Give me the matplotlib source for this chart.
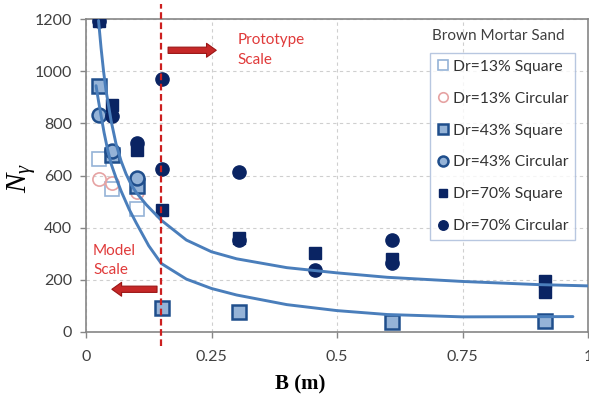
import matplotlib
matplotlib.use("Agg")
import matplotlib.pyplot as plt
from matplotlib.lines import Line2D

# ---------------- data ----------------
sq13_B = [0.0254, 0.0508, 0.1016]
sq13_N = [664, 548, 471]
ci13_B = [0.0254, 0.0508, 0.1016]
ci13_N = [586, 571, 535]
sq43_B = [0.0254, 0.0508, 0.1016, 0.152, 0.305, 0.61, 0.914]
sq43_N = [945, 680, 560, 90, 77, 38, 41]
ci43_B = [0.0254, 0.0508, 0.1016]
ci43_N = [833, 695, 590]
sq70_B = [0.0254, 0.0508, 0.1016, 0.152, 0.305, 0.457, 0.61, 0.914, 0.914]
sq70_N = [1192, 872, 699, 468, 360, 301, 278, 195, 154]
ci70_B = [0.0254, 0.0508, 0.1016, 0.152, 0.152, 0.305, 0.305, 0.457, 0.61, 0.61]
ci70_N = [1192, 830, 725, 971, 625, 615, 353, 237, 353, 263]

# trend curves
upper_B = [0.025, 0.03, 0.035, 0.04, 0.05, 0.06, 0.07, 0.08, 0.09, 0.1, 0.12, 0.15, 0.2,
           0.25, 0.3, 0.4, 0.5, 0.6, 0.75, 0.9, 1.0]
upper_N = [1195, 1090, 1000, 925, 810, 720, 655, 605, 565, 535, 488, 428, 352,
           307, 280, 246, 226, 209, 193, 181, 176]
lower_B = [0.02, 0.025, 0.03, 0.036, 0.043, 0.05, 0.06, 0.07, 0.086, 0.1, 0.125, 0.15,
           0.2, 0.25, 0.3, 0.4, 0.5, 0.6, 0.75, 0.97]
lower_N = [945, 885, 830, 765, 700, 645, 590, 540, 470, 418, 330, 262,
           202, 166, 141, 104, 81, 66, 57, 58]

boundary_B = 0.15
x_ticks = [0, 0.25, 0.5, 0.75, 1]
x_ticklabels = ["0", "0.25", "0.5", "0.75", "1"]
y_ticks = [0, 200, 400, 600, 800, 1000, 1200]

labels = ["Dr=13% Square", "Dr=13% Circular", "Dr=43% Square",
          "Dr=43% Circular", "Dr=70% Square", "Dr=70% Circular"]

# ---------------- styles ----------------
LIGHT = "#95b3d7"
DARK = "#1f4e8c"
NAVY = "#0a2463"
PINK = "#e6a3a3"
CURVE = "#4a7ebb"
RED = "#cc1f1f"
TXTRED = "#e03a3a"
TXT = "#404040"
SANS = ["Lato", "DejaVu Sans"]

series = [
    (sq13_B, sq13_N, dict(marker="s", ms=9.5, mfc="white", mec=LIGHT, mew=1.2)),
    (ci13_B, ci13_N, dict(marker="o", ms=9.5, mfc="none", mec=PINK, mew=1.2)),
    (sq43_B, sq43_N, dict(marker="s", ms=10, mfc=LIGHT, mec=DARK, mew=1.8)),
    (ci43_B, ci43_N, dict(marker="o", ms=10, mfc=LIGHT, mec=DARK, mew=1.8)),
    (sq70_B, sq70_N, dict(marker="s", ms=8.5, mfc=NAVY, mec=NAVY, mew=1)),
    (ci70_B, ci70_N, dict(marker="o", ms=9.5, mfc=NAVY, mec=NAVY, mew=1)),
]

plt.rcParams["mathtext.fontset"] = "custom"
plt.rcParams["mathtext.it"] = "Liberation Serif:italic"
plt.rcParams["mathtext.rm"] = "Liberation Serif"

fig = plt.figure(figsize=(5.89, 3.99), dpi=100)
ax = fig.add_axes([86 / 589, 1 - 331.7 / 399, 502 / 589, (331.7 - 19.3) / 399])

ax.set_xlim(0, 1)
ax.set_ylim(0, 1200)
ax.set_xticks(x_ticks)
ax.set_xticklabels(x_ticklabels)
ax.set_yticks(y_ticks)
for lab in ax.get_xticklabels() + ax.get_yticklabels():
    lab.set_fontfamily(SANS)
    lab.set_fontsize(11.5)
    lab.set_color(TXT)
ax.tick_params(axis="both", direction="out", length=4, width=1, color="#868686", pad=6)
ax.tick_params(axis="x", pad=9)
for s in ax.spines.values():
    s.set_color("#868686")
    s.set_linewidth(1.2)
ax.grid(True, color="#cfcfcf", linestyle=(0, (3, 3)), linewidth=0.8)
ax.set_axisbelow(True)

handles = []
for (bx, ny, st), lab in zip(series, labels):
    ax.plot(bx, ny, linestyle="none", zorder=3, **st)
    handles.append(Line2D([], [], linestyle="none", **st))

ax.plot(upper_B, upper_N, color=CURVE, lw=2.1, zorder=4, solid_capstyle="round",
        solid_joinstyle="round")
ax.plot(lower_B, lower_N, color=CURVE, lw=2.1, zorder=4, solid_capstyle="round",
        solid_joinstyle="round")

# boundary line
ax.plot([boundary_B, boundary_B], [-0.045, 1.05], transform=ax.get_xaxis_transform(),
        color=RED, lw=1.6, linestyle=(0, (3, 1.6)), clip_on=False, zorder=5)

# arrows and labels
arrow_kw = dict(arrowstyle="simple,head_width=1.0,head_length=0.7,tail_width=0.45",
                fc="#c62828", ec="#9b1515", lw=0.8)
ax.annotate("", xy=(0.265, 1081), xytext=(0.158, 1081),
            arrowprops=arrow_kw, annotation_clip=False, zorder=6)
ax.annotate("", xy=(0.046, 163), xytext=(0.147, 163),
            arrowprops=arrow_kw, annotation_clip=False, zorder=6)
ax.text(0.302, 1122, "Prototype", color=TXTRED, fontsize=11, family=SANS, va="center", ha="left")
ax.text(0.302, 1045, "Scale", color=TXTRED, fontsize=11, family=SANS, va="center", ha="left")
ax.text(0.014, 310, "Model", color=TXTRED, fontsize=11, family=SANS, va="center", ha="left")
ax.text(0.014, 236, "Scale", color=TXTRED, fontsize=11, family=SANS, va="center", ha="left")

# legend
leg = ax.legend(handles, labels, loc="upper left", bbox_to_anchor=(0.685, 0.893),
                frameon=True, fancybox=False, markerscale=0.72,
                handlelength=0.8, handletextpad=0.2, labelspacing=1.14,
                borderpad=0.45, borderaxespad=0, prop={"family": SANS, "size": 11.3})
leg.get_frame().set_edgecolor("#a7b9d9")
leg.get_frame().set_linewidth(1.0)
for t in leg.get_texts():
    t.set_color("#333333")
ax.text(0.821, 0.947, "Brown Mortar Sand", transform=ax.transAxes, ha="center", va="center",
        fontsize=11, family=SANS, color=TXT)

# axis labels
fig.text(300 / 589, 1 - 384 / 399, "B (m)", ha="center", va="center",
         fontsize=15, fontweight="bold", family="Liberation Serif")
fig.text(21 / 589, 1 - 178 / 399, r"$N_{\gamma}$", ha="center", va="center",
         rotation=90, fontsize=21)

fig.savefig("out.png", dpi=100, facecolor="white")
